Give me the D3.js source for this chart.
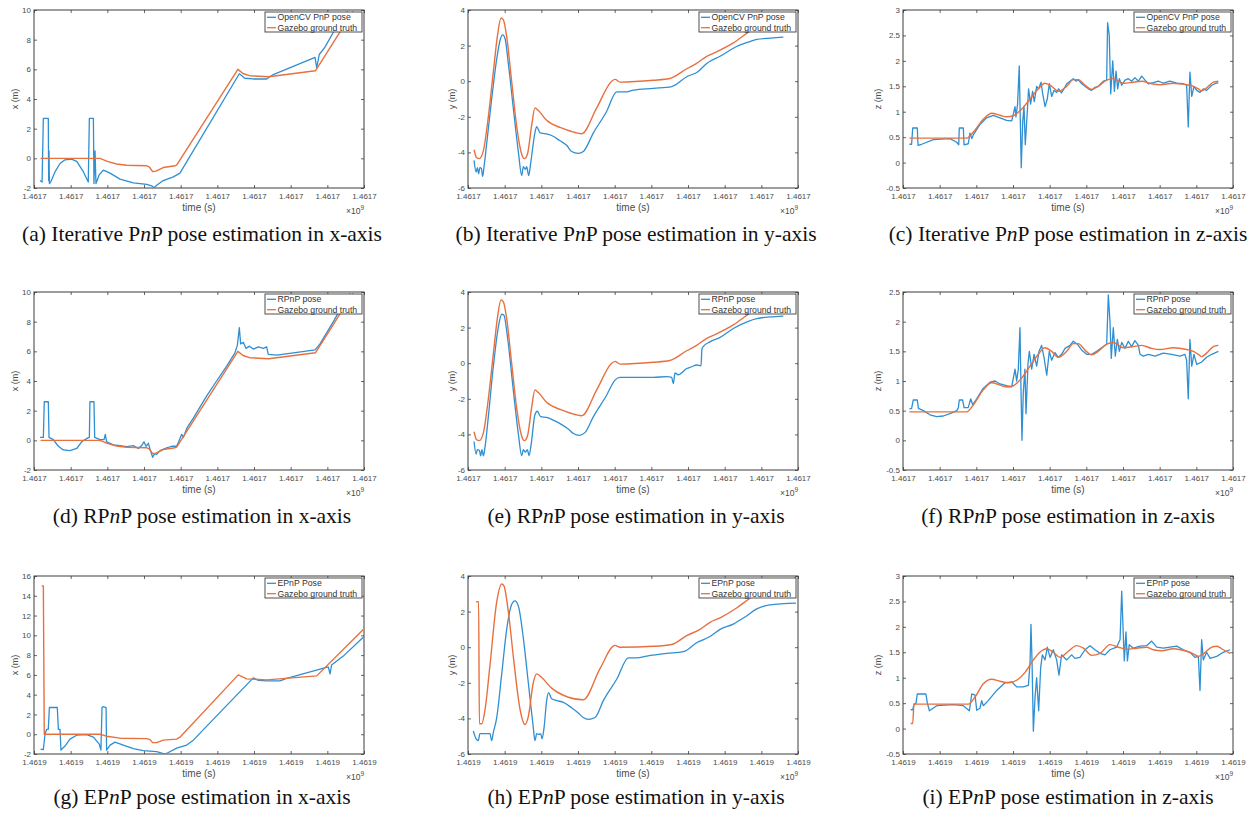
<!DOCTYPE html>
<html>
<head>
<meta charset="utf-8">
<script src="https://cdn.jsdelivr.net/npm/d3@7/dist/d3.min.js"></script>
<style>
  body { margin: 0; background: #fff; }
  svg  { display: block; }
  .tick text  { font-family: "Liberation Sans", Arial, sans-serif; font-size: 8px; fill: #4a4a4a; }
  .tick line  { stroke: #3c3c3c; stroke-width: 0.8; }
  .domain     { display: none; }
  .frame      { fill: none; stroke: #3c3c3c; stroke-width: 1; }
  .axis-label { font-family: "Liberation Sans", Arial, sans-serif; fill: #4a4a4a; }
  .legend-box { fill: #fff; stroke: #3c3c3c; stroke-width: 0.9; }
  .legend-txt { font-family: "Liberation Sans", Arial, sans-serif; font-size: 8.7px; fill: #333; }
  .caption    { font-family: "Liberation Serif", "Times New Roman", serif; font-size: 21.5px; fill: #111; }
</style>
</head>
<body>
<svg id="figure" width="1256" height="816"></svg>
<script>
////////////////////////////////////////////////////////////////////////////////
// Data: [seconds since first tick, metres].
////////////////////////////////////////////////////////////////////////////////

// Timestamps of the first x tick (the axis shows them in units of 1e9 s).
const T0_PNP  = 1461712000;
const T0_EPNP = 1461912000;
const TIME_TICKS = [0, 20, 40, 60, 80, 100, 120, 140, 160, 180];

// Gazebo ground truth, runs used for the Iterative PnP and RPnP plots.
const gtX = [[3.6,0],[36,0],[40,-0.2],[45,-0.38],[50.5,-0.47],[61.5,-0.5],[63,-0.6],[64.7,-0.9],
  [66.5,-0.86],[70.5,-0.62],[77,-0.5],[77.8,-0.45],[111.2,6.0],[114,5.72],[117.5,5.57],[128,5.5],
  [153.5,5.9],[174,9.9]];
const gtY = [[3.3,-3.85],[4.7,-4.3],[6.2,-4.35],[8.4,-3.9],[11.1,-2.0],[13.8,0.5],[16,2.5],[18,3.55],
  [19.3,3.45],[21.1,2.5],[23.8,0.0],[26.5,-2.5],[29.3,-4.1],[30.7,-4.35],[32.4,-4.1],[34.7,-2.5],
  [36.5,-1.5],[38.4,-1.65],[42.9,-2.2],[50.2,-2.6],[55.6,-2.8],[62,-2.95],[70.2,-1.5],[78.4,0.0],
  [80.2,0.1],[82.9,-0.05],[101,0.05],[110,0.15],[119.3,0.7],[124.7,1.0],[130.2,1.4],[135.6,1.65],
  [144.7,2.15],[152.9,2.75],[172,3.8]];
const gtZ = [[3.5,0.48],[34.7,0.48],[38.4,0.6],[43.8,0.85],[48.4,0.97],[52.9,0.93],[56.5,0.9],
  [60.2,0.92],[64.7,1.05],[69.3,1.25],[73.8,1.45],[77.4,1.56],[81.1,1.5],[84.7,1.4],[89.3,1.5],
  [92.9,1.63],[95.6,1.63],[99.3,1.52],[102.9,1.44],[106.5,1.5],[111.1,1.62],[114.7,1.65],[120.2,1.56],
  [125.6,1.58],[130.2,1.6],[135.6,1.55],[140.2,1.53],[147.5,1.56],[154.7,1.53],[158.4,1.5],
  [161.1,1.45],[162.9,1.41],[165.6,1.47],[169.3,1.58],[172,1.6]];

// OpenCV iterative PnP estimates.
const pnpX = [[3.3,-1.5],[4.4,-1.6],[5.1,2.7],[7.8,2.7],[8.0,-1.5],[8.2,0.5],[8.4,-1.7],[9.1,-1.6],
  [11.5,-0.9],[14.2,-0.35],[16.9,-0.1],[20.5,-0.05],[23.3,-0.2],[26.9,-0.9],[29.6,-1.6],[30.2,2.7],
  [32.4,2.7],[32.7,-1.7],[33.3,0.5],[33.8,-1.7],[35.6,-1.1],[37.8,-0.8],[41.5,-1.0],[46.9,-1.4],
  [54.2,-1.65],[61.5,-1.75],[64.2,-1.85],[65.5,-1.98],[66.9,-1.82],[70.5,-1.5],[76,-1.25],[79.6,-1.0],
  [112,5.7],[115,5.4],[119.6,5.35],[126.9,5.35],[130.5,5.65],[141.4,6.2],[153.3,6.8],[154.2,6.1],
  [155.6,7.0],[158.7,7.5],[163.3,8.5],[171,9.9]];
const pnpY = [[3.3,-4.45],[4.4,-5.1],[5.1,-4.85],[5.8,-5.2],[6.5,-4.85],[7.3,-4.9],[8,-5.35],[8.7,-4.85],
  [10.2,-3.5],[12.9,-1.0],[15.6,1.2],[17.5,2.3],[18.9,2.6],[20.2,2.4],[22,1.0],[24.7,-1.5],[27.5,-4.0],
  [29.3,-5.3],[30.2,-4.8],[31.3,-4.95],[32,-4.8],[33.1,-5.3],[34.2,-4.6],[36.5,-2.9],[37.5,-2.55],
  [39.3,-2.9],[42,-2.95],[45.6,-3.05],[50.2,-3.35],[53.8,-3.6],[56.5,-3.95],[60.2,-4.05],[62.9,-3.95],
  [68.4,-2.9],[75.6,-1.7],[81.1,-0.6],[86.5,-0.6],[90.2,-0.5],[101.1,-0.4],[111.1,-0.3],[119.3,0.25],
  [125.6,0.55],[130.2,1.0],[137.5,1.4],[146.5,1.95],[152.9,2.2],[157.5,2.35],[164.7,2.42],[172,2.48]];
const pnpZ = [[3.5,0.36],[4.7,0.36],[5.3,0.68],[7.8,0.68],[8.2,0.34],[10.2,0.36],[16.5,0.45],[25.6,0.47],
  [29.3,0.4],[30.4,0.35],[30.7,0.68],[32.9,0.68],[33.3,0.35],[35.6,0.37],[36.5,0.58],[37.5,0.47],
  [38.4,0.55],[42,0.75],[45.6,0.88],[49.3,0.93],[52.9,0.88],[56.5,0.83],[59.3,0.82],[61.1,1.1],
  [61.6,0.9],[62.5,1.15],[63.4,1.9],[64,0.8],[64.5,-0.1],[65.3,0.8],[66,1.1],[66.7,0.35],[67.8,1.0],
  [68.5,1.45],[69.6,1.15],[70.7,1.4],[71.6,1.2],[72.9,1.5],[74,1.45],[75.3,1.58],[76.2,1.35],
  [77.5,1.1],[78.7,1.25],[79.8,1.55],[81.1,1.3],[82.4,1.42],[83.8,1.38],[84.9,1.45],[86.4,1.37],
  [87.8,1.45],[89.3,1.55],[91.1,1.6],[92.9,1.65],[94.4,1.6],[95.6,1.63],[97.5,1.55],[99.3,1.5],
  [101.1,1.45],[102.9,1.42],[104.7,1.48],[106.5,1.5],[109.3,1.6],[111.1,1.62],[111.6,2.75],
  [112.5,2.5],[113.3,1.35],[114.4,2.0],[115.3,1.4],[116.2,1.8],[117.1,1.45],[118,1.65],[119.3,1.52],
  [121.1,1.62],[122.9,1.65],[124.7,1.6],[126.5,1.67],[128.4,1.6],[130.2,1.7],[132,1.62],[133.8,1.55],
  [136.5,1.57],[139.3,1.6],[142,1.56],[145.6,1.6],[149.3,1.56],[152.9,1.55],[154.7,1.52],[155.6,0.7],
  [156.5,1.78],[157.5,1.3],[158.7,1.5],[160.2,1.42],[162,1.38],[163.8,1.45],[165.6,1.42],[168.4,1.52],
  [170.2,1.55],[172,1.57]];

// RPnP estimates.
const rpnpX = [[3.3,0.2],[5.1,0.2],[5.6,2.6],[7.8,2.6],[8.2,0.2],[10.5,0.05],[13.3,-0.4],[16,-0.65],
  [19.6,-0.7],[23.3,-0.55],[26,-0.1],[29.1,0.15],[30.2,0.2],[30.5,2.6],[32.7,2.6],[33.1,0.2],[36,0.05],
  [38.2,0.05],[38.9,0.4],[39.6,-0.1],[43.3,-0.3],[46.9,-0.35],[50.5,-0.42],[54.2,-0.35],[56.9,-0.55],
  [58.7,-0.35],[60,-0.1],[61.1,-0.4],[62.4,-0.2],[63.3,-0.6],[64.7,-1.15],[65.8,-0.9],[66.9,-0.95],
  [68.7,-0.7],[72.4,-0.5],[75.1,-0.4],[77.8,-0.4],[78.7,-0.15],[80.5,0.4],[81.5,0.2],[83.3,0.8],
  [86.9,1.5],[94.2,3.0],[99.6,4.0],[105.1,5.0],[109.6,5.9],[110.9,6.4],[112,7.6],[112.7,6.5],
  [114.2,6.6],[115.6,6.2],[117.5,6.35],[119.6,6.15],[122.4,6.3],[125.1,6.2],[126.9,6.3],[127.8,5.8],
  [132.4,5.75],[141.5,5.9],[153.3,6.1],[156,6.5],[163.3,8.0],[170.5,9.6],[172.4,9.9]];
const rpnpY = [[3.3,-4.4],[4.4,-5.1],[5.1,-4.85],[6.2,-4.9],[6.9,-5.2],[7.6,-4.85],[8.4,-5.2],[9.3,-4.7],
  [11.1,-3.0],[13.8,-0.2],[16.5,2.0],[18.4,2.75],[19.6,2.7],[21.5,1.5],[24.7,-1.5],[27.5,-4.0],
  [29.3,-5.2],[30.2,-4.85],[31.3,-5.0],[32.4,-4.85],[33.3,-5.2],[34.4,-4.6],[36.5,-2.9],[37.8,-2.7],
  [39.6,-3.0],[42.9,-3.05],[46.5,-3.2],[51.1,-3.45],[54.7,-3.7],[57.5,-3.95],[60.7,-4.05],[63.8,-3.9],
  [68.4,-3.0],[75.6,-1.8],[80.2,-0.95],[82.9,-0.8],[90.2,-0.8],[101.1,-0.8],[108.4,-0.75],[111.1,-0.8],
  [112,-1.15],[112.9,-0.55],[114.7,-0.65],[119.3,-0.3],[122,-0.2],[124.7,-0.1],[127.1,-0.15],
  [127.6,0.8],[128.4,0.95],[132,1.2],[137.5,1.45],[144.7,1.95],[152.9,2.35],[157.5,2.5],[164.7,2.6],
  [172,2.65]];
const rpnpZ = [[3.5,0.53],[4.7,0.54],[5.6,0.68],[7.8,0.68],[8.4,0.54],[11.1,0.5],[14.7,0.43],[18.4,0.4],
  [22,0.41],[25.6,0.45],[29.3,0.5],[30.2,0.55],[30.7,0.68],[32.5,0.68],[33.3,0.55],[35.6,0.55],
  [36.9,0.7],[38,0.6],[40.2,0.7],[43.8,0.88],[47.5,0.98],[50.2,1.0],[52.9,0.95],[56.5,0.92],[59.3,0.9],
  [61.1,1.2],[62,1.0],[62.9,1.2],[63.8,1.9],[64.4,0.8],[64.9,0.0],[65.6,0.8],[66.5,1.2],[67.1,0.45],
  [68.2,1.3],[68.9,1.5],[70.2,1.2],[71.5,1.45],[72.9,1.25],[74.2,1.5],[75.6,1.6],[76.9,1.4],[78.4,1.1],
  [79.8,1.5],[81.1,1.35],[82.9,1.48],[84.7,1.4],[86.5,1.45],[88.4,1.55],[91.1,1.6],[92.9,1.67],
  [95.1,1.62],[97.5,1.52],[100.2,1.45],[102.9,1.45],[105.6,1.5],[109.3,1.58],[111.1,1.62],[112,2.45],
  [112.9,2.0],[113.6,1.38],[114.7,1.9],[115.8,1.42],[116.9,1.7],[118,1.5],[119.3,1.65],[121.1,1.55],
  [122.9,1.67],[124.7,1.58],[126.5,1.68],[128.4,1.6],[129.3,1.45],[131.1,1.42],[133.8,1.45],
  [137.5,1.42],[142,1.47],[146.5,1.45],[151.1,1.42],[153.8,1.45],[154.7,1.35],[155.6,0.7],[156.5,1.7],
  [157.5,1.25],[158.7,1.45],[160.2,1.28],[162.9,1.32],[165.6,1.4],[168.4,1.45],[172,1.5]];

// Gazebo ground truth, run used for the EPnP plots.
const gtX2 = [[4.2,15],[5.1,15],[5.6,0],[36,0],[39.6,-0.2],[46.9,-0.4],[61.5,-0.45],[63.3,-0.55],
  [64.7,-0.85],[66.9,-0.85],[70.5,-0.6],[77.8,-0.5],[79.6,-0.3],[111.4,6.0],[116,5.6],[127,5.5],
  [154.2,5.9],[179.6,10.6]];
const gtY2 = [[4.4,2.55],[5.8,2.55],[6.2,-4.3],[7.5,-4.3],[9.3,-3.5],[12,-1.0],[15.6,2.5],[18.4,3.55],
  [19.6,3.45],[22,2.0],[24.7,-0.5],[28.4,-3.5],[31.1,-4.35],[32.9,-3.9],[35.6,-2.0],[37.5,-1.5],
  [40.2,-1.7],[45.6,-2.3],[52,-2.7],[62.9,-2.95],[72,-1.2],[80.2,0.1],[82.9,0.0],[101.1,0.05],
  [111.1,0.15],[119.3,0.65],[126.5,1.0],[132,1.4],[137.5,1.65],[146.5,2.2],[153.8,2.75],[179,3.9]];
const gtZ2 = [[4.2,0.1],[5.3,0.1],[6,0.48],[35.6,0.48],[39.3,0.62],[43.8,0.88],[48.4,0.97],[52.9,0.93],
  [57.5,0.9],[62,0.95],[66.5,1.1],[71.1,1.35],[75.6,1.53],[78.4,1.57],[82,1.5],[85.6,1.4],[90.2,1.52],
  [94.7,1.63],[98.4,1.58],[102.9,1.44],[107.5,1.48],[112.9,1.65],[117.5,1.6],[122,1.56],[127.5,1.58],
  [132.9,1.6],[136.5,1.55],[141.1,1.53],[147.5,1.57],[154.7,1.52],[158.4,1.47],[161.1,1.42],
  [163.8,1.47],[168.4,1.6],[171.1,1.62],[174.7,1.55],[178.4,1.48]];

// EPnP estimates.
const epnpX = [[3.6,-1.5],[5.1,-1.55],[6,0.0],[6.9,0.5],[7.8,0.5],[8.4,2.7],[12.7,2.7],[13.3,0.5],
  [14.2,0.5],[14.7,-1.6],[16.9,-1.2],[19.6,-0.5],[23.3,-0.1],[28.7,-0.05],[32.4,-0.3],[35.6,-1.0],
  [36.5,-1.6],[37.1,2.7],[37.8,2.8],[39.3,2.7],[39.6,-1.6],[41.5,-1.1],[44.2,-0.8],[48.7,-1.1],
  [54.2,-1.45],[59.6,-1.65],[66.9,-1.75],[71.5,-2.0],[73.3,-1.85],[77.8,-1.4],[83.3,-1.1],[86.9,-0.6],
  [119.6,5.7],[122.4,5.45],[126.9,5.4],[134.2,5.4],[137.8,5.65],[160.5,6.8],[161.5,6.1],[162.3,7.0],
  [168.7,7.9],[179.6,9.8]];
const epnpY = [[2.9,-4.7],[4.4,-5.15],[5.6,-5.25],[6.5,-4.85],[9.3,-4.85],[12,-4.85],[12.9,-5.25],
  [13.8,-4.8],[15.6,-4.0],[18.4,-1.5],[21.1,1.0],[23.8,2.4],[25.6,2.6],[27.5,2.3],[30.2,0.5],
  [32.9,-2.0],[35.6,-4.5],[36.5,-5.25],[37.5,-4.85],[38.7,-4.9],[39.6,-4.85],[40.4,-5.15],[41.5,-4.5],
  [42.9,-3.0],[44,-2.55],[45.6,-2.9],[48.4,-3.0],[52,-3.1],[56.5,-3.4],[60.2,-3.7],[62.9,-3.95],
  [65.6,-4.05],[69.3,-3.95],[73.8,-3.0],[81.1,-1.8],[87.5,-0.6],[92,-0.6],[97.5,-0.5],[108.4,-0.35],
  [117.5,-0.25],[124.7,0.25],[132,0.6],[137.5,1.0],[144.7,1.3],[151.1,1.7],[157.5,2.15],[164.7,2.38],
  [178.9,2.48]];
const epnpZ = [[4.2,0.37],[5.3,0.37],[6,0.48],[7.1,0.5],[7.8,0.68],[12.5,0.68],[13.3,0.5],[14.4,0.35],
  [18.4,0.45],[27.5,0.47],[32.9,0.45],[36.2,0.35],[37.5,0.68],[39.3,0.66],[40.2,0.36],[42,0.4],
  [42.9,0.55],[43.8,0.45],[46.5,0.55],[51.1,0.75],[55.6,0.9],[59.3,0.92],[62,0.82],[65.6,0.82],
  [68.4,0.85],[69.3,1.3],[69.8,2.05],[70.4,1.3],[71.1,-0.05],[72,0.6],[72.9,1.0],[74,0.35],[75.1,1.2],
  [76,1.45],[77.5,1.35],[78.7,1.6],[80.2,1.4],[82,1.55],[83.8,1.35],[85.1,1.05],[86.5,1.45],[89.3,1.35],
  [92,1.45],[93.8,1.38],[96.5,1.4],[99.3,1.55],[102,1.63],[104.7,1.55],[107.5,1.48],[110.2,1.45],
  [112.9,1.55],[116.5,1.6],[118.4,1.75],[119.3,2.7],[120.2,1.8],[120.7,1.33],[121.6,1.9],[122.4,1.33],
  [123.4,1.65],[125.6,1.58],[129.3,1.62],[132.9,1.63],[135.6,1.72],[138.4,1.6],[142,1.58],[145.6,1.6],
  [149.3,1.62],[152.9,1.55],[156.5,1.5],[159.3,1.4],[161.1,1.42],[162,0.75],[162.9,1.75],[163.8,1.35],
  [165.6,1.5],[167.5,1.38],[171.1,1.42],[174.7,1.5],[178.4,1.55]];

// Y tick values of the kinds of axes.
const ticksX   = [-2, 0, 2, 4, 6, 8, 10];
const ticksX16 = [-2, 0, 2, 4, 6, 8, 10, 12, 14, 16];
const ticksY   = [-6, -4, -2, 0, 2, 4];
const ticksZ   = [-0.5, 0, 0.5, 1, 1.5, 2, 2.5, 3];
const ticksZ25 = [-0.5, 0, 0.5, 1, 1.5, 2, 2.5];

// One entry per sub-figure, row by row. smooth = [estimate, ground truth] drawn as smooth curves.
const panels = [
  { col: 0, row: 0, t0: T0_PNP,  yTicks: ticksX,   yLabel: 'x (m)', est: pnpX,  gt: gtX,  smooth: [false, false], estName: 'OpenCV PnP pose', cap: ['(a) Iterative P', 'P pose estimation in x-axis'] },
  { col: 1, row: 0, t0: T0_PNP,  yTicks: ticksY,   yLabel: 'y (m)', est: pnpY,  gt: gtY,  smooth: [true,  true ], estName: 'OpenCV PnP pose', cap: ['(b) Iterative P', 'P pose estimation in y-axis'] },
  { col: 2, row: 0, t0: T0_PNP,  yTicks: ticksZ,   yLabel: 'z (m)', est: pnpZ,  gt: gtZ,  smooth: [false, true ], estName: 'OpenCV PnP pose', cap: ['(c) Iterative P', 'P pose estimation in z-axis'] },
  { col: 0, row: 1, t0: T0_PNP,  yTicks: ticksX,   yLabel: 'x (m)', est: rpnpX, gt: gtX,  smooth: [false, false], estName: 'RPnP pose',       cap: ['(d) RP', 'P pose estimation in x-axis'] },
  { col: 1, row: 1, t0: T0_PNP,  yTicks: ticksY,   yLabel: 'y (m)', est: rpnpY, gt: gtY,  smooth: [true,  true ], estName: 'RPnP pose',       cap: ['(e) RP', 'P pose estimation in y-axis'] },
  { col: 2, row: 1, t0: T0_PNP,  yTicks: ticksZ25, yLabel: 'z (m)', est: rpnpZ, gt: gtZ,  smooth: [false, true ], estName: 'RPnP pose',       cap: ['(f) RP', 'P pose estimation in z-axis'] },
  { col: 0, row: 2, t0: T0_EPNP, yTicks: ticksX16, yLabel: 'x (m)', est: epnpX, gt: gtX2, smooth: [false, false], estName: 'EPnP Pose',       cap: ['(g) EP', 'P pose estimation in x-axis'] },
  { col: 1, row: 2, t0: T0_EPNP, yTicks: ticksY,   yLabel: 'y (m)', est: epnpY, gt: gtY2, smooth: [true,  true ], estName: 'EPnP pose',       cap: ['(h) EP', 'P pose estimation in y-axis'] },
  { col: 2, row: 2, t0: T0_EPNP, yTicks: ticksZ,   yLabel: 'z (m)', est: epnpZ, gt: gtZ2, smooth: [false, true ], estName: 'EPnP pose',       cap: ['(i) EP', 'P pose estimation in z-axis'] }
];

////////////////////////////////////////////////////////////////////////////////
// Layout.
////////////////////////////////////////////////////////////////////////////////
const COL_LEFT = [34, 468, 903];
const ROW_TOP  = [10, 292, 576];
const PLOT_W   = 330;
const PLOT_H   = 178;
const CAP_X    = [202, 636, 1068];
const CAP_Y    = [241, 523, 804];
const YLAB_DX  = [-16, -13, -22];
const BLUE     = '#2f8fd3';
const ORANGE   = '#e8703f';

const svg = d3.select('#figure');

// Builds one sub-figure: frame, axes, both curves, legend and caption.
class PanelBuilder {

  constructor ( cfg, i ) {
    this.cfg  = cfg;
    this.i    = i;
    this.left = COL_LEFT[cfg.col];
    this.top  = ROW_TOP[cfg.row];
    this.and  = this;
  }

  makeCanvas ( ) {
    this.g = svg.append( 'g' )
      .attr( 'transform', `translate(${this.left},${this.top})` );
    this.g.append( 'clipPath' )
      .attr( 'id', `clip-${this.i}` )
      .append( 'rect' )
        .attr( 'width' , PLOT_W )
        .attr( 'height', PLOT_H );
    return this;
  }

  setScales ( ) {
    const yt = this.cfg.yTicks;
    this.x = d3.scaleLinear( )
      .domain( [ TIME_TICKS[0], TIME_TICKS[TIME_TICKS.length - 1] ] )
      .range( [ 0, PLOT_W ] );
    this.y = d3.scaleLinear( )
      .domain( [ yt[0], yt[yt.length - 1] ] )
      .range( [ PLOT_H, 0 ] );
    return this;
  }

  // MATLAB style: ticks point inwards on all four sides of the box.
  drawAxes ( ) {
    const t0 = this.cfg.t0;
    const timeFmt = d => d3.format( '.4f' )( ( t0 + d ) / 1e9 );
    this.g.append( 'g' )
      .attr( 'transform', `translate(0,${PLOT_H})` )
      .call( d3.axisBottom( this.x ).tickValues( TIME_TICKS ).tickSize( -3 ).tickPadding( 5 ).tickFormat( timeFmt ) );
    this.g.append( 'g' )
      .call( d3.axisTop( this.x ).tickValues( TIME_TICKS ).tickSize( -3 ).tickFormat( '' ) );
    this.g.append( 'g' )
      .call( d3.axisLeft( this.y ).tickValues( this.cfg.yTicks ).tickSize( -3 ).tickPadding( 3 ).tickFormat( d => String( d ) ) );
    this.g.append( 'g' )
      .attr( 'transform', `translate(${PLOT_W},0)` )
      .call( d3.axisRight( this.y ).tickValues( this.cfg.yTicks ).tickSize( -3 ).tickFormat( '' ) );
    this.g.append( 'rect' )
      .attr( 'class' , 'frame' )
      .attr( 'width' , PLOT_W )
      .attr( 'height', PLOT_H );
    return this;
  }

  drawLines ( ) {
    const makeLine = smooth => d3.line( )
      .x( d => this.x( d[0] ) )
      .y( d => this.y( d[1] ) )
      .curve( smooth ? d3.curveMonotoneX : d3.curveLinear );
    const lines = this.g.append( 'g' ).attr( 'clip-path', `url(#clip-${this.i})` );
    lines.append( 'path' )
      .attr( 'd', makeLine( this.cfg.smooth[0] )( this.cfg.est ) )
      .attr( 'fill', 'none' )
      .attr( 'stroke', BLUE )
      .attr( 'stroke-width', 1.3 )
      .attr( 'stroke-linejoin', 'round' );
    lines.append( 'path' )
      .attr( 'd', makeLine( this.cfg.smooth[1] )( this.cfg.gt ) )
      .attr( 'fill', 'none' )
      .attr( 'stroke', ORANGE )
      .attr( 'stroke-width', 1.4 )
      .attr( 'stroke-linejoin', 'round' );
    return this;
  }

  drawLegend ( ) {
    const w = 97, h = 20;
    const lg = this.g.append( 'g' )
      .attr( 'transform', `translate(${PLOT_W - 2 - w},2)` );
    lg.append( 'rect' )
      .attr( 'class' , 'legend-box' )
      .attr( 'width' , w )
      .attr( 'height', h );
    const items = [ { name: this.cfg.estName, color: BLUE }, { name: 'Gazebo ground truth', color: ORANGE } ];
    items.forEach( ( it, k ) => {
      const yy = 5.3 + k * 10.4;
      lg.append( 'line' )
        .attr( 'x1', 2 ).attr( 'x2', 11 )
        .attr( 'y1', yy ).attr( 'y2', yy )
        .attr( 'stroke', it.color )
        .attr( 'stroke-width', 1.3 );
      lg.append( 'text' )
        .attr( 'class', 'legend-txt' )
        .attr( 'x', 12.5 )
        .attr( 'y', yy )
        .attr( 'dy', '0.35em' )
        .text( it.name );
    } );
    return this;
  }

  drawLabels ( ) {
    this.g.append( 'text' )
      .attr( 'class', 'axis-label' )
      .attr( 'x', PLOT_W / 2 )
      .attr( 'y', PLOT_H + 23 )
      .attr( 'text-anchor', 'middle' )
      .style( 'font-size', '10px' )
      .text( 'time (s)' );
    const exp = this.g.append( 'text' )
      .attr( 'class', 'axis-label' )
      .attr( 'x', PLOT_W )
      .attr( 'y', PLOT_H + 26 )
      .attr( 'text-anchor', 'end' )
      .style( 'font-size', '8.5px' );
    exp.append( 'tspan' ).text( '\u00d710' );
    exp.append( 'tspan' ).attr( 'dy', -4 ).style( 'font-size', '6.5px' ).text( '9' );
    this.g.append( 'text' )
      .attr( 'class', 'axis-label' )
      .attr( 'transform', `translate(${YLAB_DX[this.cfg.col]},${PLOT_H / 2}) rotate(-90)` )
      .attr( 'text-anchor', 'middle' )
      .style( 'font-size', '9px' )
      .text( this.cfg.yLabel );
    const cap = svg.append( 'text' )
      .attr( 'class', 'caption' )
      .attr( 'x', CAP_X[this.cfg.col] )
      .attr( 'y', CAP_Y[this.cfg.row] )
      .attr( 'text-anchor', 'middle' );
    cap.append( 'tspan' ).text( this.cfg.cap[0] );
    cap.append( 'tspan' ).style( 'font-style', 'italic' ).text( 'n' );
    cap.append( 'tspan' ).text( this.cfg.cap[1] );
    return this;
  }
}

panels.forEach( ( p, i ) => {
  new PanelBuilder( p, i ).makeCanvas( ).setScales( ).drawAxes( ).drawLines( ).drawLegend( ).and.drawLabels( );
} );
</script>
</body>
</html>
